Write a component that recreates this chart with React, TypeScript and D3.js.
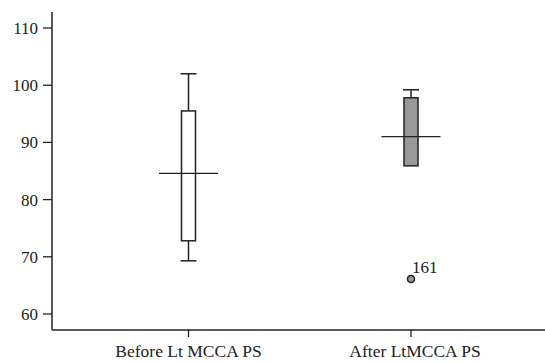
import React from "react";
import * as d3 from "d3";

const categories = ["Before Lt MCCA PS", "After LtMCCA PS"];
const whiskerLow = [69.3, 85.9];
const q1 = [72.8, 85.9];
const median = [84.6, 91.0];
const q3 = [95.5, 97.8];
const whiskerHigh = [102, 99.2];
const fills = ["#ffffff", "#999999"];
const outliers = [{ cat: 1, value: 66.1, label: "161" }];
const yTicks = [60, 70, 80, 90, 100, 110];

export default function App() {
  const W = 545, H = 362;
  const left = 52, bottom = 330, top = 12;
  const y = d3.scaleLinear().domain([60, 110]).range([314, 28]);
  const x = d3.scalePoint().domain(categories).range([188.5, 411]);
  const font = "'Liberation Serif', 'Times New Roman', serif";
  const boxW = 14, capW = 16, medW = 59;
  return (
    <svg width={W} height={H} style={{ position: "absolute", left: 0, top: 0 }}>
      <rect width={W} height={H} fill="#fff" />
      <line x1={left} x2={left} y1={top} y2={bottom} stroke="#222" strokeWidth={1.5} />
      <line x1={left} x2={W} y1={bottom} y2={bottom} stroke="#222" strokeWidth={1.5} />
      {yTicks.map((t) => (
        <g key={t}>
          <line x1={left - 9} x2={left} y1={y(t)} y2={y(t)} stroke="#222" strokeWidth={1.3} />
          <text x={left - 14} y={y(t)} dy="0.35em" textAnchor="end" fontFamily={font} fontSize={17} fill="#222">
            {t}
          </text>
        </g>
      ))}
      {categories.map((c, i) => (
        <g key={c}>
          <line x1={x(c)} x2={x(c)} y1={bottom} y2={bottom + 7} stroke="#222" strokeWidth={1.3} />
          <text x={(x(c) as number) + (i === 1 ? 4 : 0)} y={357} textAnchor="middle" fontFamily={font} fontSize={17.5} fill="#222">
            {c}
          </text>
        </g>
      ))}
      {categories.map((c, i) => {
        const cx = x(c) as number;
        return (
          <g key={"b" + c} stroke="#222" strokeWidth={1.5}>
            <line x1={cx} x2={cx} y1={y(whiskerHigh[i])} y2={y(q3[i])} />
            <line x1={cx} x2={cx} y1={y(q1[i])} y2={y(whiskerLow[i])} />
            <line x1={cx - capW / 2} x2={cx + capW / 2} y1={y(whiskerHigh[i])} y2={y(whiskerHigh[i])} />
            {whiskerLow[i] < q1[i] && (
              <line x1={cx - capW / 2} x2={cx + capW / 2} y1={y(whiskerLow[i])} y2={y(whiskerLow[i])} />
            )}
            <rect x={cx - boxW / 2} y={y(q3[i])} width={boxW} height={y(q1[i]) - y(q3[i])} fill={fills[i]} />
            <line x1={cx - medW / 2} x2={cx + medW / 2} y1={y(median[i])} y2={y(median[i])} strokeWidth={1.3} />
          </g>
        );
      })}
      {outliers.map((o) => {
        const cx = x(categories[o.cat]) as number;
        return (
          <g key={o.label}>
            <circle cx={cx} cy={y(o.value)} r={3.5} fill="#999" stroke="#222" strokeWidth={1.5} />
            <text x={cx + 1} y={y(o.value) - 6} fontFamily={font} fontSize={17} fill="#222">
              {o.label}
            </text>
          </g>
        );
      })}
    </svg>
  );
}
